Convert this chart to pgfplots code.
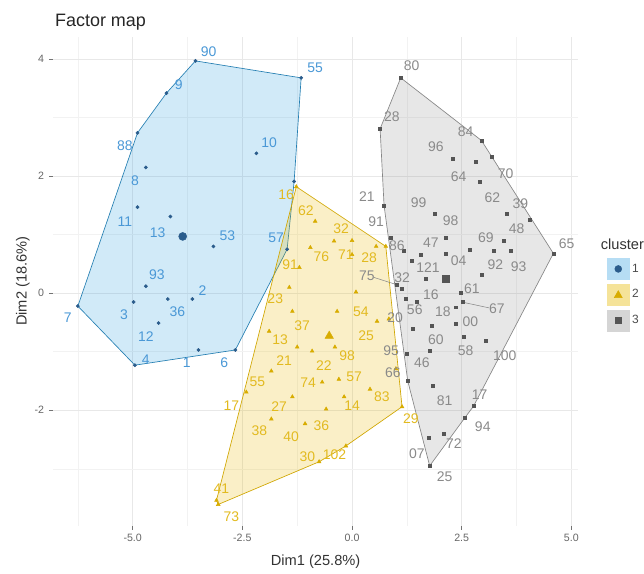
\documentclass[border=0pt]{standalone}
\usepackage{fontspec}
\setmainfont{Liberation Sans}
\usepackage{pgfplots}
\usepackage{pgfplotstable}
\pgfplotsset{compat=1.18}

\definecolor{cblue}{HTML}{2E9FDF}
\definecolor{cyellow}{HTML}{E7B800}
\definecolor{cgrey}{HTML}{868686}
\definecolor{bluept}{HTML}{2A5C8C}
\definecolor{yellowpt}{HTML}{D8AC00}
\definecolor{greypt}{HTML}{555555}
\definecolor{bluelab}{HTML}{4A98D6}
\definecolor{yellowlab}{HTML}{E2BA20}
\definecolor{greylab}{HTML}{8A8A8A}

% cluster 1: x y label-x label-y label
\pgfplotstableread{
x y lx ly lab
-3.57 3.97 -3.27 4.12 90
-1.16 3.68 -0.84 3.85 55
-4.23 3.42 -3.95 3.56 9
-4.89 2.74 -5.18 2.52 88
-4.70 2.15 -4.95 1.93 8
-2.18 2.39 -1.89 2.57 10
-4.89 1.47 -5.18 1.23 11
-4.14 1.31 -4.43 1.04 13
-3.16 0.80 -2.84 0.99 53
-1.48 0.75 -1.73 0.95 57
-4.70 0.12 -4.45 0.31 93
-4.98 -0.15 -5.20 -0.36 3
-4.20 -0.10 -3.98 -0.32 36
-3.64 -0.10 -3.41 0.05 2
-4.41 -0.51 -4.70 -0.75 12
-6.25 -0.22 -6.48 -0.41 7
-4.95 -1.23 -4.70 -1.14 4
-3.50 -0.97 -3.77 -1.18 1
-2.66 -0.97 -2.91 -1.18 6
-1.32 1.91 -1.32 1.91 {}
}\clustA

% cluster 2
\pgfplotstableread{
x y lx ly lab
-1.27 1.82 -1.50 1.68 16
-0.84 1.23 -1.05 1.41 62
-0.41 0.89 -0.25 1.11 32
0.00 0.90 -0.14 0.65 71
-0.95 0.78 -0.70 0.63 76
-1.20 0.44 -1.41 0.48 91
0.55 0.80 0.39 0.61 28
0.77 0.80 0.77 0.80 {}
0.09 0.02 0.20 -0.32 54
0.00 0.66 0.00 0.66 {}
-1.43 0.10 -1.75 -0.10 23
-1.36 -0.31 -1.14 -0.55 37
-1.89 -0.65 -1.64 -0.80 13
0.57 -0.48 0.32 -0.72 25
-0.39 -0.92 -0.11 -1.07 98
-0.91 -0.99 -0.64 -1.24 22
-0.34 -0.31 -0.34 -0.31 {}
-1.25 -0.92 -1.55 -1.16 21
-0.68 -1.52 -1.00 -1.53 74
-1.36 -1.77 -1.66 -1.93 27
-1.84 -2.15 -2.11 -2.35 38
-1.07 -2.23 -1.39 -2.45 40
-0.59 -1.98 -0.70 -2.27 36
-0.30 -1.47 0.05 -1.43 57
-2.41 -1.69 -2.75 -1.93 17
-1.84 -1.33 -2.16 -1.52 55
-0.18 -1.77 0.00 -1.93 14
0.41 -1.64 0.68 -1.77 83
1.14 -1.94 1.34 -2.15 29
-0.14 -2.61 -0.40 -2.76 102
-0.75 -2.88 -1.02 -2.80 30
-3.09 -3.54 -2.98 -3.34 41
-3.05 -3.61 -2.75 -3.82 73
0.84 -0.44 0.84 -0.44 {}
1.00 -1.29 1.00 -1.29 {}
}\clustB

% cluster 3
\pgfplotstableread{
x y lx ly lab
1.11 3.68 1.36 3.88 80
0.64 2.81 0.91 3.02 28
2.95 2.61 2.59 2.76 84
3.19 2.33 3.50 2.04 70
2.30 2.30 1.91 2.50 96
2.82 2.25 2.82 2.25 {}
2.91 1.91 2.43 1.99 64
3.52 1.35 3.20 1.64 62
4.05 1.25 3.84 1.53 39
1.89 1.36 1.52 1.55 99
0.73 1.50 0.34 1.65 21
0.89 0.95 0.55 1.23 91
2.14 0.94 2.25 1.24 98
3.45 0.90 3.75 1.11 48
1.57 0.65 1.80 0.87 47
1.18 0.72 1.02 0.82 86
3.23 0.73 3.05 0.95 69
2.68 0.75 2.68 0.75 {}
3.61 0.72 3.80 0.46 93
2.14 0.68 2.43 0.55 04
2.95 0.32 3.27 0.48 92
4.59 0.68 4.89 0.85 65
1.14 0.07 1.14 0.27 32
1.02 0.14 0.34 0.29 75
1.68 0.24 1.73 0.44 121
2.48 0.00 2.73 0.07 61
2.52 -0.15 3.30 -0.27 67
1.48 -0.14 1.80 -0.03 16
1.23 -0.10 1.43 -0.29 56
2.36 -0.24 2.07 -0.31 18
2.36 -0.53 2.70 -0.48 00
1.82 -0.56 1.91 -0.80 60
2.55 -0.75 2.59 -0.99 58
3.05 -0.82 3.48 -1.06 100
1.39 -0.61 0.98 -0.41 20
1.25 -1.04 0.89 -0.99 95
1.27 -1.50 0.93 -1.36 66
1.77 -0.99 1.59 -1.19 46
1.84 -1.58 2.11 -1.84 81
2.77 -1.93 2.91 -1.74 17
2.57 -2.13 2.98 -2.28 94
1.75 -2.47 1.48 -2.74 07
2.09 -2.40 2.32 -2.57 72
1.77 -2.95 2.11 -3.13 25
1.36 0.55 1.36 0.55 {}
}\clustC

\begin{document}
\begin{tikzpicture}
\begin{axis}[
  at={(0pt,0pt)}, anchor=south west,
  scale only axis, width=395.25pt, height=367.5pt,
  xmin=-6.82, xmax=5.16, ymin=-3.97, ymax=4.38,
  axis line style={draw=none},
  xtick={-5,-2.5,0,2.5,5}, xticklabels={-5.0,-2.5,0.0,2.5,5.0},
  ytick={-2,0,2,4},
  minor xtick={-6.25,-3.75,-1.25,1.25,3.75},
  minor ytick={-3,-1,1,3},
  grid=both,
  major grid style={draw=black!9, line width=0.6pt},
  minor grid style={draw=black!5, line width=0.35pt},
  tick align=outside, tick pos=left,
  major tick length=3pt, minor tick length=0pt,
  tick style={draw=black!55, line width=0.5pt},
  ticklabel style={font=\fontsize{8}{9}\selectfont, text=black!60},
  /pgf/number format/assume math mode=true,
  xlabel={Dim1 (25.8\%)}, ylabel={Dim2 (18.6\%)},
  label style={font=\fontsize{11}{12}\selectfont, text=black!80},
  xlabel style={at={(axis description cs:0.5,-0.075)}, anchor=center},
  ylabel style={at={(axis description cs:-0.057,0.5)}, anchor=center},
  legend style={at={(1.054,0.548)}, anchor=north west, draw=none, fill=none,
    inner sep=0pt, row sep=3pt, font=\fontsize{9}{10}\selectfont, text=black!70,
    /tikz/every even column/.append style={column sep=8pt}},
  legend cell align=left,
]
% hulls
\addplot[forget plot, draw=cblue!80!black, line width=0.5pt, fill=cblue, fill opacity=0.22]
  coordinates {(-3.57,3.97) (-1.16,3.68) (-1.32,1.91) (-1.48,0.75) (-2.66,-0.97)
  (-4.95,-1.23) (-6.25,-0.22) (-4.89,2.74) (-4.23,3.42)} -- cycle;
\addplot[forget plot, draw=cyellow!90!black, line width=0.5pt, fill=cyellow, fill opacity=0.22]
  coordinates {(-1.27,1.82) (0.77,0.80) (1.14,-1.94) (-0.14,-2.61) (-0.75,-2.88)
  (-3.05,-3.61) (-3.09,-3.54)} -- cycle;
\addplot[forget plot, draw=cgrey, line width=0.5pt, fill=cgrey, fill opacity=0.2]
  coordinates {(1.11,3.68) (2.95,2.61) (4.59,0.68) (2.77,-1.93) (2.57,-2.13)
  (1.77,-2.95) (1.27,-1.50) (0.73,1.50) (0.64,2.81)} -- cycle;
% repel segments
\addplot[forget plot, draw=cgrey, line width=0.4pt] coordinates {(2.56,-0.16) (3.12,-0.25)};
\addplot[forget plot, draw=cgrey, line width=0.4pt] coordinates {(0.50,0.27) (1.00,0.15)};
% points
\addplot[forget plot, only marks, mark=*, mark size=1.2pt, color=bluept] table[x=x,y=y]{\clustA};
\addplot[forget plot, only marks, mark=triangle*, mark size=1.6pt, color=yellowpt] table[x=x,y=y]{\clustB};
\addplot[forget plot, only marks, mark=square*, mark size=1.1pt, color=greypt] table[x=x,y=y]{\clustC};
% centroids
\addplot[forget plot, only marks, mark=*, mark size=3pt, color=bluept] coordinates {(-3.86,0.97)};
\addplot[forget plot, only marks, mark=triangle*, mark size=3.6pt, color=yellowpt] coordinates {(-0.52,-0.73)};
\addplot[forget plot, only marks, mark=square*, mark size=2.6pt, color=greypt] coordinates {(2.14,0.24)};
% labels
\addplot[forget plot, only marks, mark=none, nodes near coords, point meta=explicit symbolic,
  every node near coord/.append style={anchor=center, inner sep=0pt, text=bluelab, font=\fontsize{10.5}{11}\selectfont}]
  table[x=lx,y=ly,meta=lab]{\clustA};
\addplot[forget plot, only marks, mark=none, nodes near coords, point meta=explicit symbolic,
  every node near coord/.append style={anchor=center, inner sep=0pt, text=yellowlab, font=\fontsize{10.5}{11}\selectfont}]
  table[x=lx,y=ly,meta=lab]{\clustB};
\addplot[forget plot, only marks, mark=none, nodes near coords, point meta=explicit symbolic,
  every node near coord/.append style={anchor=center, inner sep=0pt, text=greylab, font=\fontsize{10.5}{11}\selectfont}]
  table[x=lx,y=ly,meta=lab]{\clustC};
% legend
\addlegendimage{legend image code/.code={
  \fill[cblue!35] (0pt,-8pt) rectangle (16.5pt,8pt);
  \fill[bluept] (8.25pt,0pt) circle (2.6pt);}}
\addlegendentry{1}
\addlegendimage{legend image code/.code={
  \fill[cyellow!40] (0pt,-8pt) rectangle (16.5pt,8pt);
  \fill[yellowpt] (8.25pt,3pt) -- (11.25pt,-2.2pt) -- (5.25pt,-2.2pt) -- cycle;}}
\addlegendentry{2}
\addlegendimage{legend image code/.code={
  \fill[cgrey!35] (0pt,-8pt) rectangle (16.5pt,8pt);
  \fill[greypt] (6.05pt,-2.2pt) rectangle (10.45pt,2.2pt);}}
\addlegendentry{3}
\end{axis}
\node[anchor=west, inner sep=0pt, font=\fontsize{13.5}{15}\selectfont, text=black!85] at (1.5pt,378.75pt) {Factor map};
\node[anchor=west, inner sep=0pt, font=\fontsize{11}{12}\selectfont, text=black!80] at (412pt,211.5pt) {cluster};
\path[use as bounding box] (-39.75pt,-31.5pt) rectangle (443.25pt,395.25pt);
\end{tikzpicture}
\end{document}
